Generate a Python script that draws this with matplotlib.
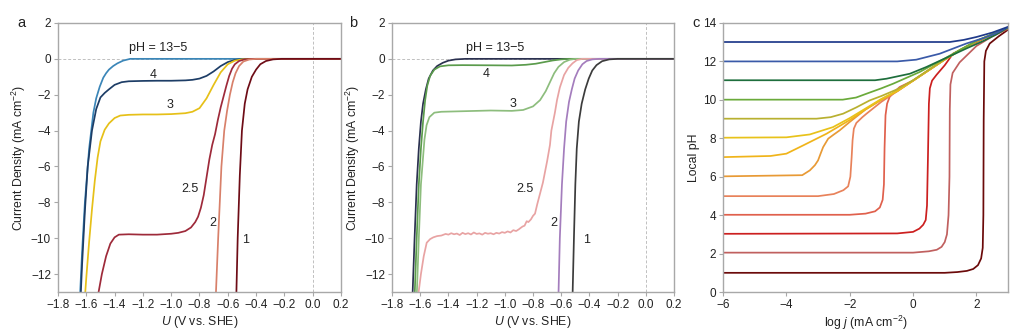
import matplotlib
matplotlib.use("Agg")
import matplotlib.pyplot as plt

plt.rcParams["font.family"] = ["Liberation Sans", "DejaVu Sans"]
plt.rcParams["mathtext.fontset"] = "custom"
plt.rcParams["mathtext.rm"] = "Liberation Sans"
plt.rcParams["mathtext.it"] = "Liberation Sans:italic"

# ---- panel a: measured LSV curves (U in V vs SHE, j in mA cm^-2) ----
a_labels = ["13-5", "4", "3", "2.5", "2", "1"]
a_colors = ["#3b86b8", "#1d3d66", "#e6c018", "#9e2a3a", "#d8806a", "#6e0c16"]
a_U = [
    [0.2, -0.4, -0.8, -1.2, -1.29, -1.34, -1.38, -1.41, -1.44, -1.46, -1.48, -1.505, -1.53, -1.55, -1.565, -1.58, -1.59, -1.61, -1.63, -1.645],
    [0.2, -0.4, -0.5, -0.55, -0.6, -0.65, -0.7, -0.75, -0.8, -0.85, -0.9, -1.0, -1.1, -1.2, -1.3, -1.35, -1.4, -1.44, -1.47, -1.5, -1.53, -1.56, -1.59, -1.61, -1.63, -1.64],
    [0.2, -0.4, -0.5, -0.55, -0.6, -0.65, -0.7, -0.75, -0.8, -0.85, -0.9, -1.0, -1.1, -1.2, -1.3, -1.36, -1.4, -1.44, -1.47, -1.5, -1.52, -1.54, -1.56, -1.58, -1.6, -1.61],
    [0.2, -0.42, -0.48, -0.52, -0.55, -0.57, -0.59, -0.61, -0.63, -0.65, -0.67, -0.69, -0.71, -0.73, -0.75, -0.77, -0.79, -0.81, -0.83, -0.86, -0.9, -0.95, -1.0, -1.1, -1.2, -1.3, -1.37, -1.4, -1.43, -1.46, -1.49, -1.52],
    [0.2, -0.4, -0.45, -0.49, -0.52, -0.545, -0.565, -0.585, -0.605, -0.625, -0.645, -0.668, -0.685],
    [0.2, -0.22, -0.28, -0.33, -0.37, -0.4, -0.43, -0.46, -0.48, -0.5, -0.515, -0.53, -0.54],
]
a_j = [
    [0, 0, 0, 0, 0, -0.1, -0.25, -0.4, -0.6, -0.8, -1.05, -1.55, -2.2, -3.0, -4.0, -5.0, -6.0, -8.0, -10.8, -13.3],
    [0, 0, -0.02, -0.06, -0.18, -0.4, -0.7, -0.95, -1.1, -1.17, -1.2, -1.22, -1.22, -1.23, -1.25, -1.3, -1.45, -1.7, -1.9, -2.15, -2.8, -4.0, -6.0, -8.5, -11.5, -13.3],
    [0, 0, -0.03, -0.1, -0.3, -0.75, -1.45, -2.2, -2.75, -2.95, -3.03, -3.08, -3.1, -3.1, -3.12, -3.16, -3.3, -3.6, -3.95, -4.6, -5.5, -6.8, -8.4, -10.2, -12.2, -13.3],
    [0, 0, -0.03, -0.12, -0.3, -0.55, -0.95, -1.5, -2.1, -2.7, -3.4, -4.2, -4.8, -5.6, -6.6, -7.6, -8.3, -8.8, -9.1, -9.4, -9.6, -9.7, -9.75, -9.8, -9.8, -9.78, -9.8, -9.95, -10.3, -11.0, -12.0, -13.3],
    [0, 0, -0.04, -0.15, -0.4, -0.8, -1.3, -2.0, -2.9, -4.0, -6.0, -10.0, -13.3],
    [0, 0, -0.03, -0.12, -0.3, -0.6, -1.0, -1.7, -2.5, -4.0, -6.5, -10.0, -13.3],
]
a_text_x = [-1.09, -1.128, -1.01, -0.864, -0.703, -0.472]
a_text_y = [0.62, -0.92, -2.55, -7.27, -9.15, -10.1]

# ---- panel b ----
b_labels = ["13-5", "4", "3", "2.5", "2", "1"]
b_colors = ["#2b3150", "#5b9b4c", "#8dbd7d", "#e8a3a3", "#a47dbd", "#3c3c3c"]
b_U = [
    [0.2, -1.28, -1.35, -1.4, -1.44, -1.48, -1.51, -1.54, -1.56, -1.58, -1.595, -1.61, -1.625, -1.64, -1.655],
    [0.2, -0.55, -0.6, -0.66, -0.72, -0.78, -0.85, -0.95, -1.1, -1.3, -1.4, -1.46, -1.5, -1.53, -1.55, -1.565, -1.58, -1.595, -1.61, -1.625, -1.64],
    [0.2, -0.5, -0.54, -0.58, -0.62, -0.65, -0.68, -0.71, -0.75, -0.8, -0.87, -0.95, -1.1, -1.3, -1.45, -1.5, -1.535, -1.555, -1.57, -1.585, -1.595, -1.61, -1.625],
    [0.2, -0.45, -0.49, -0.52, -0.55, -0.58, -0.61, -0.63, -0.645, -0.67, -0.68, -0.7, -0.715, -0.73, -0.75, -0.77, -0.786, -0.8, -0.815, -0.833, -0.845, -0.86, -0.875, -0.892,
     -0.9, -0.92, -0.94, -0.96, -0.98, -1.0, -1.02, -1.04, -1.06, -1.08, -1.1, -1.12, -1.14, -1.16, -1.18, -1.2, -1.22, -1.24, -1.26, -1.28, -1.3, -1.32, -1.34, -1.36,
     -1.38, -1.4, -1.42, -1.45, -1.48, -1.507, -1.53, -1.554, -1.575, -1.595, -1.616],
    [0.2, -0.33, -0.38, -0.42, -0.45, -0.48, -0.505, -0.525, -0.545, -0.565, -0.58, -0.595, -0.61, -0.62],
    [0.2, -0.2, -0.26, -0.31, -0.35, -0.38, -0.405, -0.43, -0.455, -0.475, -0.49, -0.5, -0.51, -0.52],
]
b_j = [
    [0, 0, -0.03, -0.1, -0.22, -0.4, -0.65, -1.1, -1.7, -2.5, -3.5, -5.0, -7.0, -10.0, -13.3],
    [0, 0, -0.03, -0.09, -0.18, -0.27, -0.33, -0.37, -0.36, -0.35, -0.36, -0.42, -0.6, -0.95, -1.5, -2.3, -3.5, -5.0, -7.0, -10.0, -13.3],
    [0, 0, -0.05, -0.18, -0.45, -0.8, -1.3, -1.8, -2.3, -2.65, -2.85, -2.9, -2.88, -2.92, -2.95, -3.0, -3.25, -3.7, -4.5, -6.0, -7.0, -10.0, -13.3],
    [0, 0, -0.07, -0.25, -0.5, -0.9, -1.6, -2.3, -3.0, -4.0, -4.8, -5.7, -6.3, -6.9, -7.5, -8.1, -8.63, -8.75, -8.95, -9.1, -9.05, -9.3, -9.35, -9.45,
     -9.5, -9.6, -9.55, -9.68, -9.62, -9.7, -9.66, -9.74, -9.7, -9.78, -9.72, -9.75, -9.7, -9.8, -9.73, -9.76, -9.68, -9.79, -9.72, -9.77, -9.7, -9.82, -9.74, -9.78,
     -9.72, -9.8, -9.76, -9.85, -9.88, -9.95, -10.05, -10.25, -11.0, -12.0, -13.3],
    [0, 0, -0.03, -0.12, -0.3, -0.65, -1.1, -1.7, -2.4, -3.5, -5.0, -7.0, -10.0, -13.3],
    [0, 0, -0.03, -0.13, -0.35, -0.65, -1.1, -1.7, -2.5, -3.5, -5.0, -7.0, -10.0, -13.3],
]
b_text_x = [-1.07, -1.133, -0.944, -0.857, -0.656, -0.42]
b_text_y = [0.62, -0.86, -2.54, -7.27, -9.15, -10.1]

# ---- panel c: simulated local pH vs log j, bulk pH 1..13 ----
c_bulk = [1, 2, 3, 4, 5, 6, 7, 8, 9, 10, 11, 12, 13]
c_colors = ["#6b0a0a", "#c0605f", "#cc1f1f", "#e0604c", "#e8825a", "#e89a35", "#f0b41a",
            "#e8c21a", "#b8b030", "#6aaa3a", "#1e6e3c", "#3a5aa8", "#1f3a8a"]
c_x = [
    [-6, 1.0, 1.4, 1.7, 1.9, 2.05, 2.15, 2.2, 2.22, 2.23, 2.25, 2.3, 2.42, 2.7, 3.0],
    [-6, 0.0, 0.5, 0.75, 0.9, 1.0, 1.07, 1.12, 1.15, 1.16, 1.18, 1.25, 1.47, 2.0, 2.5, 3.0],
    [-6, -0.5, 0.0, 0.2, 0.32, 0.4, 0.44, 0.47, 0.5, 0.53, 0.6, 0.74, 1.0, 1.26, 2.0, 2.5, 3.0],
    [-6, -2.0, -1.5, -1.2, -1.05, -0.96, -0.92, -0.9, -0.87, -0.82, -0.74, -0.6, -0.42, 0.0, 0.5, 1.0, 1.5, 2.0, 2.5, 3.0],
    [-6, -3.0, -2.5, -2.2, -2.05, -1.98, -1.94, -1.91, -1.87, -1.79, -1.6, -1.47, -1.0, -0.5, 0.0, 0.5, 1.0, 1.5, 2.0, 2.5, 3.0],
    [-6, -3.5, -3.26, -3.1, -3.0, -2.92, -2.84, -2.68, -2.5, -2.32, -2.0, -1.5, -1.0, -0.5, 0.0, 0.5, 1.0, 1.5, 2.0, 2.5, 3.0],
    [-6, -4.5, -4.0, -3.47, -2.73, -2.0, -1.5, -1.0, -0.5, 0.0, 0.5, 1.0, 1.5, 2.0, 2.5, 3.0],
    [-6, -4.0, -3.26, -2.53, -2.0, -1.5, -1.0, -0.5, 0.0, 0.5, 1.0, 1.5, 2.0, 2.5, 3.0],
    [-6, -3.05, -2.6, -2.21, -1.8, -1.37, -1.0, -0.5, 0.0, 0.5, 1.0, 1.5, 2.0, 2.5, 3.0],
    [-6, -2.22, -1.8, -1.47, -1.0, -0.63, 0.21, 0.6, 1.0, 1.5, 2.0, 2.5, 3.0],
    [-6, -1.2, -0.84, -0.1, 0.42, 1.0, 1.68, 2.2, 2.6, 3.0],
    [-6, -0.5, 0.1, 0.84, 1.68, 2.2, 2.6, 3.0],
    [-6, 1.16, 1.6, 2.0, 2.5, 3.0],
]
c_pH = [
    [1.0, 1.0, 1.04, 1.1, 1.2, 1.4, 1.75, 2.3, 4.0, 8.9, 12.0, 12.55, 12.93, 13.3, 13.65],
    [2.05, 2.05, 2.12, 2.2, 2.35, 2.6, 3.0, 4.0, 6.0, 9.5, 10.8, 11.4, 11.95, 12.8, 13.3, 13.7],
    [3.03, 3.05, 3.13, 3.3, 3.5, 3.75, 4.5, 7.0, 9.8, 10.6, 11.0, 11.3, 11.8, 12.4, 13.0, 13.4, 13.72],
    [4.02, 4.02, 4.08, 4.2, 4.4, 4.8, 5.6, 7.5, 9.2, 9.8, 10.15, 10.4, 10.67, 11.0, 11.55, 12.1, 12.6, 13.05, 13.4, 13.75],
    [4.99, 4.99, 5.1, 5.3, 5.5, 6.0, 7.0, 7.9, 8.5, 8.8, 9.1, 9.28, 9.9, 10.45, 11.0, 11.55, 12.1, 12.6, 13.05, 13.4, 13.75],
    [6.02, 6.08, 6.33, 6.6, 6.85, 7.2, 7.54, 7.98, 8.2, 8.41, 8.85, 9.5, 10.0, 10.45, 11.0, 11.55, 12.1, 12.6, 13.05, 13.4, 13.75],
    [7.02, 7.08, 7.2, 7.63, 8.24, 8.95, 9.5, 10.02, 10.45, 11.0, 11.55, 12.1, 12.6, 13.05, 13.4, 13.75],
    [8.03, 8.05, 8.2, 8.58, 9.05, 9.55, 10.05, 10.48, 11.0, 11.55, 12.1, 12.6, 13.05, 13.4, 13.75],
    [9.02, 9.02, 9.1, 9.28, 9.6, 9.97, 10.2, 10.55, 11.02, 11.57, 12.1, 12.6, 13.05, 13.4, 13.75],
    [10.01, 10.01, 10.12, 10.32, 10.6, 10.84, 11.45, 11.8, 12.15, 12.62, 13.07, 13.42, 13.76],
    [11.02, 11.02, 11.1, 11.36, 11.71, 12.15, 12.67, 13.05, 13.38, 13.76],
    [12.0, 12.0, 12.09, 12.4, 12.93, 13.2, 13.45, 13.78],
    [13.01, 13.01, 13.12, 13.27, 13.5, 13.8],
]

SPINE = "#a8a8a8"
TXT = "#222222"


def style(ax):
    for s in ax.spines.values():
        s.set_color(SPINE)
        s.set_linewidth(1.0)
    ax.tick_params(direction="out", length=3, width=0.8, color=SPINE,
                   labelsize=8.5, labelcolor=TXT, pad=2)


def lsv_panel(ax, U, J, colors, tx, ty, labels):
    ax.axhline(0, color="#c0c0c0", lw=0.7, ls=(0, (3, 2)), zorder=0)
    ax.axvline(0, color="#c0c0c0", lw=0.7, ls=(0, (3, 2)), zorder=0)
    for u, j, c in zip(U, J, colors):
        ax.plot(u, j, color=c, lw=1.25, solid_joinstyle="round")
    for x, y, lab in zip(tx, ty, labels):
        s = "pH = 13\u22125" if lab == "13-5" else lab
        ax.text(x, y, s, ha="center", va="center", fontsize=9, color=TXT)
    ax.set_xlim(-1.8, 0.2)
    ax.set_ylim(-13, 2)
    ax.set_xticks([-1.8, -1.6, -1.4, -1.2, -1.0, -0.8, -0.6, -0.4, -0.2, 0.0, 0.2])
    ax.set_xticklabels(["\u22121.8", "\u22121.6", "\u22121.4", "\u22121.2", "\u22121.0", "\u22120.8",
                        "\u22120.6", "\u22120.4", "\u22120.2", "0.0", "0.2"])
    ax.set_yticks(range(-12, 3, 2))
    ax.set_yticklabels([str(v).replace("-", "\u2212") for v in range(-12, 3, 2)])
    ax.set_xlabel(r"$U$ (V vs. SHE)", fontsize=8.8, color=TXT, labelpad=2)
    ax.set_ylabel(r"Current Density (mA cm$^{-2}$)", fontsize=8.8, color=TXT, labelpad=2)
    style(ax)


fig = plt.figure(figsize=(10.23, 3.33), dpi=100)
ax_a = fig.add_axes([0.0567, 0.123, 0.2766, 0.808])
ax_b = fig.add_axes([0.3832, 0.123, 0.2757, 0.808])
ax_c = fig.add_axes([0.7068, 0.123, 0.2786, 0.808])

lsv_panel(ax_a, a_U, a_j, a_colors, a_text_x, a_text_y, a_labels)
lsv_panel(ax_b, b_U, b_j, b_colors, b_text_x, b_text_y, b_labels)

for x, y, c in zip(c_x, c_pH, c_colors):
    ax_c.plot(x, y, color=c, lw=1.25, solid_joinstyle="round")
ax_c.set_xlim(-6, 3)
ax_c.set_ylim(0, 14)
ax_c.set_xticks([-6, -4, -2, 0, 2])
ax_c.set_xticklabels(["\u22126", "\u22124", "\u22122", "0", "2"])
ax_c.set_yticks(range(0, 15, 2))
ax_c.set_xlabel(r"log $j$ (mA cm$^{-2}$)", fontsize=8.8, color=TXT, labelpad=2)
ax_c.set_ylabel("Local pH", fontsize=8.8, color=TXT, labelpad=2)
style(ax_c)

for x, lab in [(0.021, "a"), (0.345, "b"), (0.680, "c")]:
    fig.text(x, 0.93, lab, fontsize=10.5, color=TXT, va="center", ha="center")

fig.savefig("out.png", dpi=100)
